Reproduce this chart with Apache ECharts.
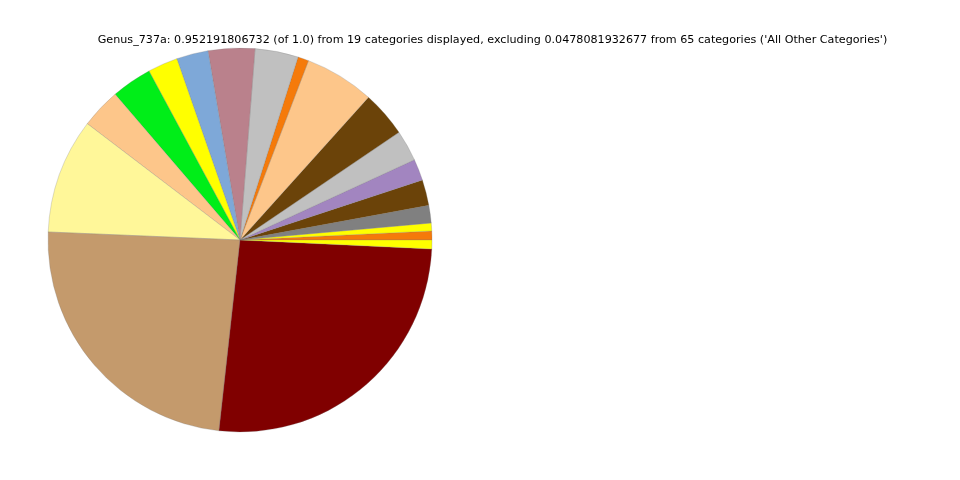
<!DOCTYPE html>
<html>
<head>
<meta charset="utf-8">
<script src="https://cdn.jsdelivr.net/npm/echarts@6/dist/echarts.min.js"></script>
<style>
html,body{margin:0;padding:0;background:#fff;}
#chart{width:960px;height:480px;}
</style>
</head>
<body>
<div id="chart"></div>
<script>
// Slices listed counter-clockwise starting at 3 o'clock
const categories = ['Cat 1','Cat 2','Cat 3','Cat 4','Cat 5','Cat 6','Cat 7','Cat 8','Cat 9','Cat 10',
  'Cat 11','Cat 12','Cat 13','Cat 14','Cat 15','Cat 16','Cat 17','Cat 18','Cat 19'];
const values = [0.00714, 0.00635, 0.01402, 0.02063, 0.01719, 0.02486, 0.03676, 0.05580, 0.00873, 0.03464,
  0.03729, 0.02539, 0.02406, 0.03253, 0.03200, 0.09229, 0.22769, 0.24752, 0.00714];
const colors = ['#F57A0A','#FFFF00','#808080','#6B4309','#A285C0','#C0C0C0','#6B4309','#FDC68A','#F57A0A','#C0C0C0',
  '#BA818C','#7EA8D8','#FFFF00','#00EE18','#FDC68A','#FFF799','#C49A6C','#800000','#FFFF00'];
const titleText = "Genus_737a: 0.952191806732 (of 1.0) from 19 categories displayed, excluding 0.0478081932677 from 65 categories ('All Other Categories')";

const chart = echarts.init(document.getElementById('chart'), null, {renderer:'canvas'});
chart.setOption({
  animation: false,
  backgroundColor: '#ffffff',
  title: {
    text: titleText,
    left: 487.5,
    top: 30,
    textAlign: 'center',
    textStyle: {fontFamily: 'DejaVu Sans', fontSize: 11.15, fontWeight: 'normal', color: '#000'}
  },
  series: [{
    type: 'pie',
    center: [240, 240],
    radius: [0, 192],
    startAngle: 0,
    clockwise: false,
    avoidLabelOverlap: false,
    label: {show: false},
    labelLine: {show: false},
    emphasis: {disabled: true},
    itemStyle: {borderColor: 'rgba(120,120,120,0.5)', borderWidth: 0.5},
    data: categories.map((c, i) => ({name: c, value: values[i], itemStyle: {color: colors[i]}}))
  }]
});
</script>
</body>
</html>
